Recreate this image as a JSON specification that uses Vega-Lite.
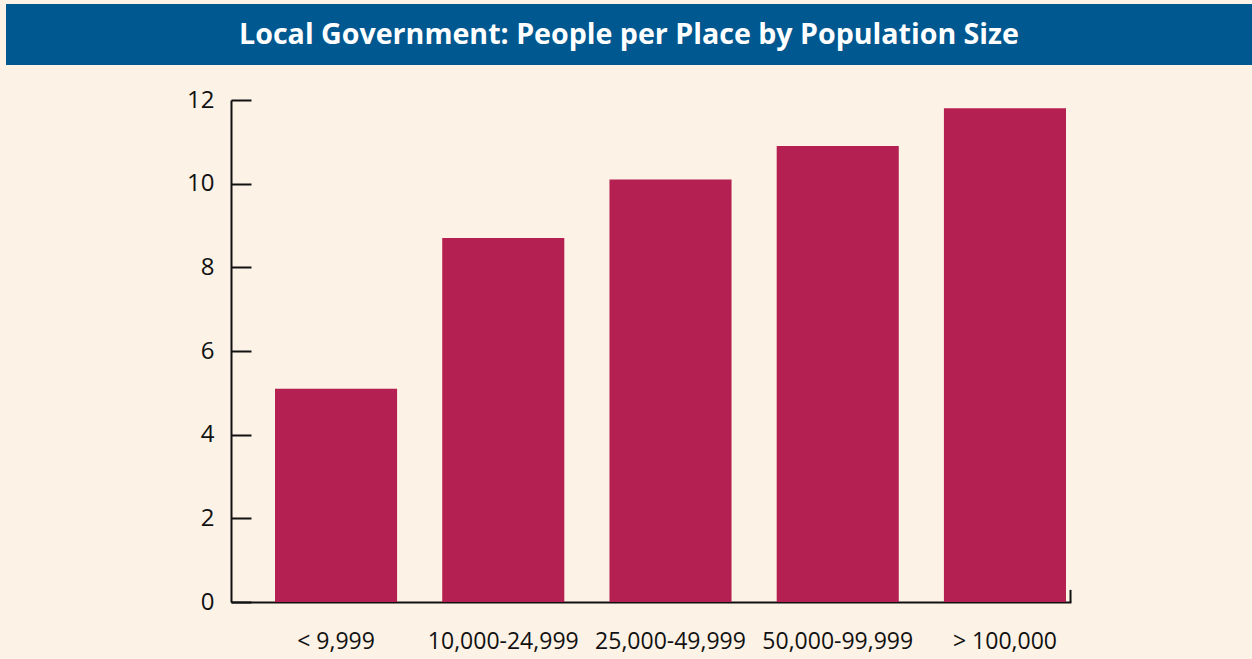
{
  "$schema": "https://vega.github.io/schema/vega-lite/v6.json",
  "background": "#fcf2e6",
  "padding": {"left": 6, "top": 4, "right": 0, "bottom": 8},
  "spacing": 23,
  "vconcat": [
    {
      "width": 1246,
      "height": 61,
      "view": {"fill": "#005891", "stroke": null},
      "data": {"values": [{"title": "Local Government: People per Place by Population Size"}]},
      "mark": {"type": "text", "color": "white", "font": "Open Sans", "fontWeight": "bold", "fontSize": 28.6, "baseline": "middle", "align": "center"},
      "encoding": {"text": {"field": "title", "type": "nominal"}}
    },
    {
      "spacing": 0,
      "hconcat": [
        {
          "width": 180,
          "height": 502,
          "view": {"stroke": null},
          "data": {"values": []},
          "mark": "point",
          "encoding": {}
        },
        {
          "width": 840,
          "height": 502,
          "view": {"stroke": null},
          "layer": [
            {
              "data": {"values": [
                {"size": "< 9,999", "people": 5.1},
                {"size": "10,000-24,999", "people": 8.7},
                {"size": "25,000-49,999", "people": 10.1},
                {"size": "50,000-99,999", "people": 10.9},
                {"size": "> 100,000", "people": 11.8}
              ]},
              "mark": {"type": "bar", "color": "#b52052"},
              "encoding": {
                "x": {
                  "field": "size", "type": "nominal",
                  "scale": {"domain": ["< 9,999", "10,000-24,999", "25,000-49,999", "50,000-99,999", "> 100,000"], "paddingInner": 0.27, "paddingOuter": 0.1465, "align": 0.898},
                  "axis": {"title": null, "labelAngle": 0, "ticks": false, "domain": true, "domainColor": "#111", "domainWidth": 2, "labelPadding": 28, "labelFont": "Open Sans", "labelFontSize": 23, "labelColor": "#111", "grid": false}
                },
                "y": {
                  "field": "people", "type": "quantitative",
                  "scale": {"domain": [0, 12], "nice": false},
                  "axis": {"title": null, "values": [0, 2, 4, 6, 8, 10, 12], "grid": false, "domainColor": "#111", "domainWidth": 2, "tickColor": "#111", "tickWidth": 2, "tickSize": -20, "labelPadding": 37, "labelFont": "Open Sans", "labelFontSize": 24, "labelColor": "#111"}
                }
              }
            },
            {
              "data": {"values": [{"size": "> 100,000", "low": 0, "high": 0.29}]},
              "mark": {"type": "rule", "color": "#111", "strokeWidth": 2},
              "encoding": {
                "x": {"field": "size", "type": "nominal", "bandPosition": 1.037},
                "y": {"field": "low", "type": "quantitative"},
                "y2": {"field": "high"}
              }
            }
          ]
        }
      ]
    }
  ]
}
